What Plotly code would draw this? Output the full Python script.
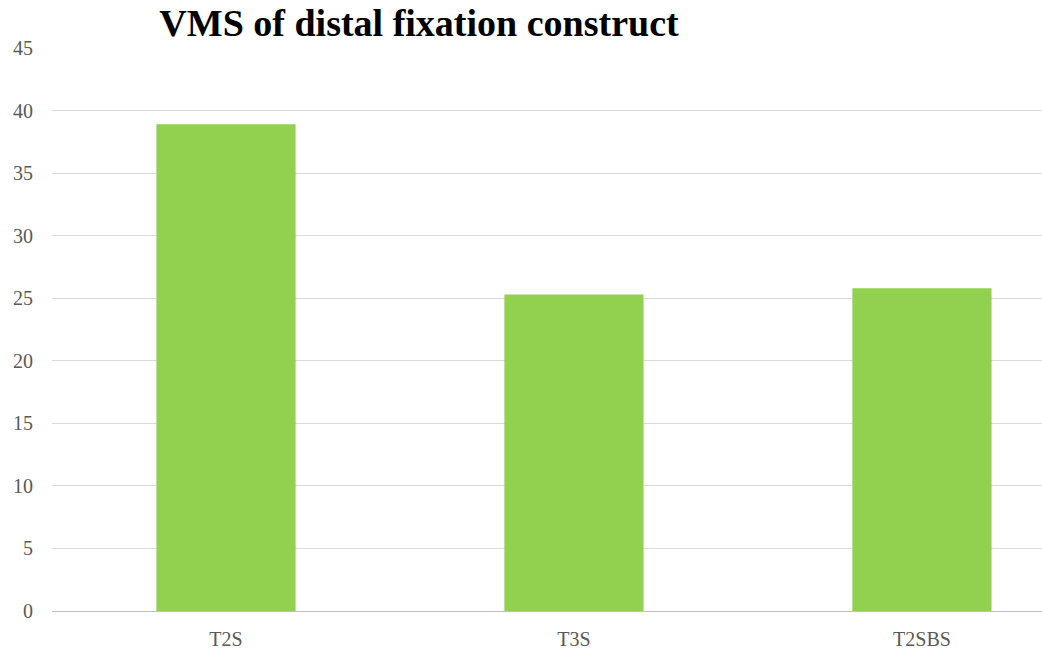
import plotly.graph_objects as go

# Von Mises stress (VMS) by fixation construct
constructs = ["T2S", "T3S", "T2SBS"]
vms_values = [38.9, 25.3, 25.8]
y_ticks = [0, 5, 10, 15, 20, 25, 30, 35, 40, 45]

BAR_GREEN = "#92D050"
LABEL_GRAY = "#595959"
GRID_GRAY = "#D9D9D9"
SERIF = "Liberation Serif, Times New Roman, serif"

fig = go.Figure(
    go.Bar(
        x=[0, 1, 2],
        y=vms_values,
        width=0.4,
        marker=dict(color=BAR_GREEN, line=dict(width=0)),
    )
)

fig.update_layout(
    width=1042,
    height=653,
    margin=dict(l=52, r=0, t=48, b=42),
    paper_bgcolor="white",
    plot_bgcolor="white",
    showlegend=False,
    title=dict(
        text="<b>VMS of distal fixation construct</b>",
        font=dict(family=SERIF, size=38, color="black"),
        x=419 / 1042,
        xref="container",
        xanchor="center",
        y=1 - 23 / 653,
        yref="container",
        yanchor="middle",
    ),
)

fig.update_xaxes(
    range=[-0.5, 2.345],
    tickmode="array",
    tickvals=[0, 1, 2],
    ticktext=constructs,
    showgrid=False,
    showline=False,
    zeroline=False,
    ticks="",
    ticklabelstandoff=14,
    tickfont=dict(family=SERIF, size=20, color=LABEL_GRAY),
)

fig.update_yaxes(
    range=[0, 45],
    tickmode="array",
    tickvals=y_ticks,
    showgrid=True,
    gridcolor=GRID_GRAY,
    gridwidth=1,
    zeroline=True,
    zerolinecolor="#BFBFBF",
    zerolinewidth=1,
    showline=False,
    ticks="",
    ticklabelstandoff=18,
    tickfont=dict(family=SERIF, size=20, color=LABEL_GRAY),
)

fig.write_html("out.html")
